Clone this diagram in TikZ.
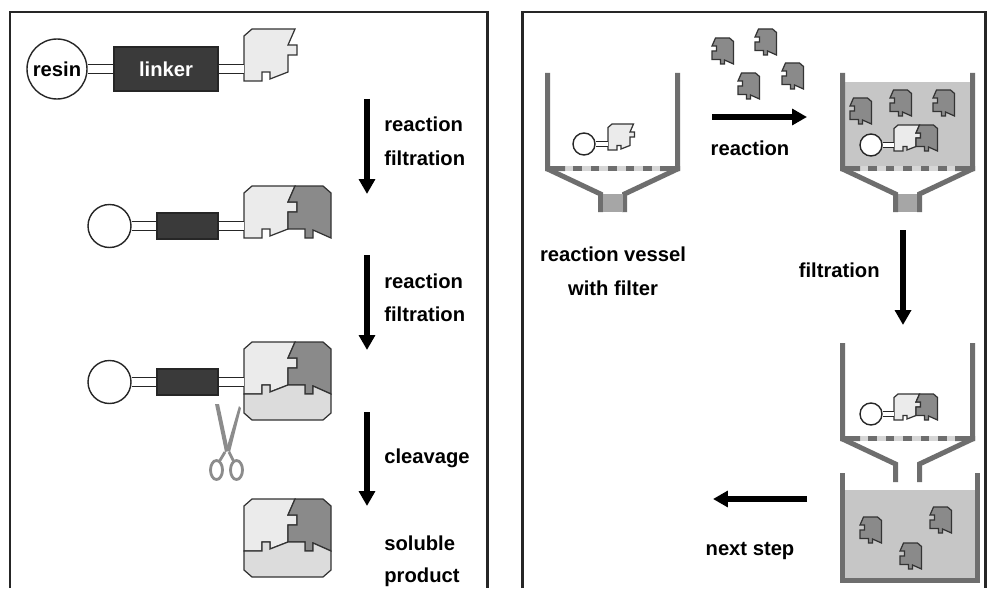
\documentclass[tikz,border=0pt]{standalone}
\usepackage{fontspec}
\setsansfont{Liberation Sans}
\usetikzlibrary{arrows.meta, positioning}

\definecolor{wallgray}{HTML}{6E6E6E}
\definecolor{filtergray}{HTML}{D6D6D6}
\definecolor{liquid}{HTML}{C6C6C6}
\definecolor{stemgray}{HTML}{A6A6A6}
\definecolor{lightblock}{HTML}{EBEBEB}
\definecolor{darkblock}{HTML}{8A8A8A}
\definecolor{baseblock}{HTML}{DCDCDC}
\definecolor{linkergray}{HTML}{3A3A3A}
\definecolor{scissorgray}{HTML}{8C8C8C}

\tikzset{
  piece/.style={draw=black!80, line width=0.7pt, line join=miter},
  wall/.style={draw=wallgray, line width=2.85pt, line join=miter},
  blockA/.pic={\filldraw[piece, fill=lightblock] (0,52) -- (0,7) -- (8,0) -- (51,0) -- (44,16) -- (53,16) -- (53,26) -- (44,26) -- (44,43) -- (26,50) -- (26,43) -- (18,43) -- (18,52) -- cycle;},
  blockB/.pic={\filldraw[piece, fill=darkblock] (51,0) -- (79,0) -- (87,7) -- (87,52) -- (69,44) -- (69,52) -- (61,52) -- (61,43) -- (44,43) -- (44,26) -- (53,26) -- (53,16) -- (44,16) -- cycle;},
  blockC/.pic={\filldraw[piece, fill=baseblock] (0,52) -- (18,52) -- (18,43) -- (26,43) -- (26,50) -- (44,43) -- (61,43) -- (61,52) -- (69,52) -- (69,44) -- (87,52) -- (87,71) -- (79,78) -- (8,78) -- (0,71) -- cycle;},
  monomer/.pic={\pic[transform shape] {blockA}; \coordinate (-in) at (0,40);},
  dimer/.pic={\pic[transform shape] {blockA}; \pic[transform shape] {blockB}; \coordinate (-in) at (0,40);},
  trimer/.pic={\pic[transform shape] {blockA}; \pic[transform shape] {blockB}; \pic[transform shape] {blockC}; \coordinate (-in) at (0,40);},
  vessel/.pic={
    \fill[filtergray] (5,93) rectangle (130,98);
    \foreach \i in {0,...,4} \fill[wallgray] (28+17.5*\i,93) rectangle ++(8.5,5);
    \fill[wallgray] (0,93) rectangle (20,98) (115,93) rectangle (135,98);
    \draw[wall] (2.5,0) -- (2.5,96) -- (55.5,121) -- (55.5,139);
    \draw[wall] (132.5,0) -- (132.5,96) -- (79.5,121) -- (79.5,139);
  }
}

\begin{document}
\begin{tikzpicture}[x=0.02cm, y=-0.02cm,
  lbl/.style={font=\sffamily\bfseries\fontsize{11.5}{14}\selectfont, inner sep=0pt},
  frame/.style={draw=black!85, line width=1.7pt},
  resin/.style={draw=black!85, circle, fill=white, line width=0.8pt, inner sep=0pt},
  linker/.style={draw=black!85, fill=linkergray, text=white, line width=0.7pt, inner sep=0pt},
  bond/.style={draw=black!85, line width=0.7pt, double=white, double distance=4pt},
  smallbond/.style={draw=black!85, line width=0.6pt, double=white, double distance=2pt},
  arr/.style={line width=3.4pt, -{Triangle[width=9pt, length=8.5pt]}}]

  \fill[white] (0,0) rectangle (990,588);
  \useasboundingbox (0,0) rectangle (990,588);

  \draw[frame] (10,588) -- (10,12) -- (487,12) -- (487,588);
  \draw[frame] (522,588) -- (522,12) -- (985,12) -- (985,588);

  % solid phase synthesis on the resin
  \node[resin, lbl, minimum size=1.2cm] (r1) at (57,69) {resin};
  \node[linker, lbl, minimum width=2.08cm, minimum height=0.88cm] (l1) at (166,69) {linker};
  \pic (p1) at (244,29) {monomer};
  \draw[bond] (r1) -- (l1);
  \draw[bond] (l1) -- (p1-in);

  \node[resin, minimum size=0.86cm] (r2) at (109.5,226) {};
  \node[linker, minimum width=1.22cm, minimum height=0.52cm] (l2) at (187.5,226) {};
  \pic (p2) at (244,186) {dimer};
  \draw[bond] (r2) -- (l2);
  \draw[bond] (l2) -- (p2-in);

  \node[resin, minimum size=0.86cm] (r3) at (109.5,382) {};
  \node[linker, minimum width=1.22cm, minimum height=0.52cm] (l3) at (187.5,382) {};
  \pic (p3) at (244,342) {trimer};
  \draw[bond] (r3) -- (l3);
  \draw[bond] (l3) -- (p3-in);

  \pic (p4) at (244,499) {trimer};

  % scissors
  \fill[scissorgray] (215,404) -- (219,404) -- (229,451) -- (225,452) -- cycle;
  \fill[scissorgray] (239,406) -- (241,408) -- (230,452) -- (226,450) -- cycle;
  \draw[scissorgray, line width=1.6pt] (225,452) -- (219,462) (229,452) -- (234,462);
  \draw[scissorgray, line width=1.6pt] (216.5,470) ellipse [x radius=0.12cm, y radius=0.19cm];
  \draw[scissorgray, line width=1.6pt] (236.5,470) ellipse [x radius=0.12cm, y radius=0.19cm];

  \coordinate (a1s) at (367,99);  \coordinate (a1e) at (367,194);
  \coordinate (a2s) at (367,255); \coordinate (a2e) at (367,350);
  \coordinate (a3s) at (367,412); \coordinate (a3e) at (367,506);
  \draw[arr] (a1s) -- (a1e);
  \draw[arr] (a2s) -- (a2e);
  \draw[arr] (a3s) -- (a3e);

  \node[lbl, anchor=base west] (t1) at (384,132) {reaction};
  \node[lbl, anchor=base west] (t2) at (384,165) {filtration};
  \node[lbl, anchor=base west] (t3) at (384,288) {reaction};
  \node[lbl, anchor=base west] (t4) at (384,321) {filtration};
  \node[lbl, anchor=base west] (t5) at (384,463) {cleavage};
  \node[lbl, anchor=base west] (t6) at (384,550) {soluble};
  \node[lbl, anchor=base west] (t7) at (384,582) {product};

  % reaction vessels
  \pic (v1) at (545,73) {vessel};
  \fill[stemgray] (603,194) rectangle (623,212);
  \node[resin, minimum size=0.44cm] (r5) at (584,144) {};
  \pic[scale=0.5] (q1) at (608,124) {monomer};
  \draw[smallbond] (r5) -- (q1-in);

  \fill[liquid] (845,82) rectangle (970,166);
  \fill[stemgray] (898,194) rectangle (918,212);
  \pic (v2) at (840,73) {vessel};
  \pic[scale=0.5] at (828,98) {blockB};
  \pic[scale=0.5] at (868,90) {blockB};
  \pic[scale=0.5] at (911,90) {blockB};
  \node[resin, minimum size=0.44cm] (r6) at (871,145) {};
  \pic[scale=0.5] (q2) at (894,125) {dimer};
  \draw[smallbond] (r6) -- (q2-in);

  \pic (v3) at (840,343) {vessel};
  \node[resin, minimum size=0.44cm] (r7) at (871,414) {};
  \pic[scale=0.5] (q3) at (894,394) {dimer};
  \draw[smallbond] (r7) -- (q3-in);

  \fill[liquid] (845,490) rectangle (975,578);
  \draw[wall] (842.5,473) -- (842.5,580) -- (977.5,580) -- (977.5,473);
  \pic[scale=0.5] at (838,517) {blockB};
  \pic[scale=0.5] at (908,507) {blockB};
  \pic[scale=0.5] at (878,543) {blockB};

  \pic[scale=0.5] at (690,38) {blockB};
  \pic[scale=0.5] at (733,29) {blockB};
  \pic[scale=0.5] at (716,73) {blockB};
  \pic[scale=0.5] at (760,63) {blockB};

  \coordinate (b1s) at (712,117); \coordinate (b1e) at (807,117);
  \coordinate (b2s) at (903,230); \coordinate (b2e) at (903,325);
  \coordinate (b3s) at (807,499); \coordinate (b3e) at (713,499);
  \draw[arr] (b1s) -- (b1e);
  \draw[arr] (b2s) -- (b2e);
  \draw[arr] (b3s) -- (b3e);

  \node[lbl, anchor=base] (t8) at (750,155) {reaction};
  \node[lbl, anchor=base] (t9) at (613,261) {reaction vessel};
  \node[lbl, anchor=base] (t10) at (613,295) {with filter};
  \node[lbl, anchor=base east] (t11) at (880,277) {filtration};
  \node[lbl, anchor=base] (t12) at (750,555) {next step};
\end{tikzpicture}
\end{document}
